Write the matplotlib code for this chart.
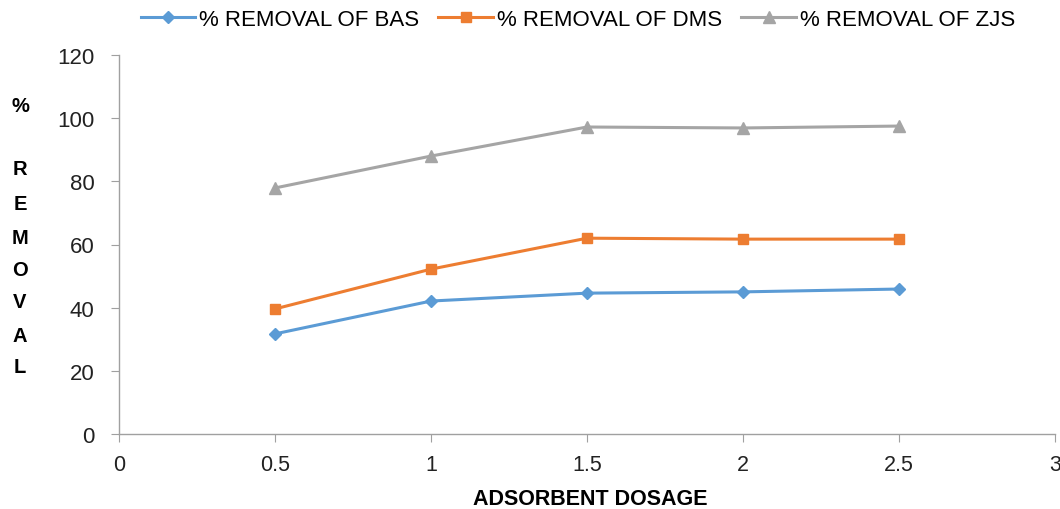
import matplotlib
matplotlib.use("Agg")
import matplotlib.pyplot as plt

# adsorbent dosage vs percentage removal for three adsorbents
dosage = [0.5, 1.0, 1.5, 2.0, 2.5]
removal_bas = [31.7, 42.1, 44.6, 45.0, 45.9]
removal_dms = [39.6, 52.2, 62.0, 61.7, 61.7]
removal_zjs = [77.9, 88.0, 97.2, 96.9, 97.5]

x_ticks = [0, 0.5, 1, 1.5, 2, 2.5, 3]
x_tick_labels = ["0", "0.5", "1", "1.5", "2", "2.5", "3"]
y_ticks = [0, 20, 40, 60, 80, 100, 120]

sans = ["Liberation Sans", "DejaVu Sans"]

fig = plt.figure(figsize=(10.6, 5.1), dpi=100)
ax = fig.add_axes([119 / 1060, 1 - 435 / 510, (1055 - 119) / 1060, (435 - 56) / 510])

ax.plot(dosage, removal_bas, color="#5B9BD5", marker="D", markersize=6, linewidth=2.2,
        label="% REMOVAL OF BAS")
ax.plot(dosage, removal_dms, color="#ED7D31", marker="s", markersize=7, linewidth=2.2,
        label="% REMOVAL OF DMS")
ax.plot(dosage, removal_zjs, color="#A5A5A5", marker="^", markersize=8, linewidth=2.2,
        label="% REMOVAL OF ZJS")

ax.set_xlim(0, 3)
ax.set_ylim(0, 120)
ax.set_xticks(x_ticks)
ax.set_xticklabels(x_tick_labels, fontfamily=sans, fontsize=15.5)
ax.set_yticks(y_ticks)
ax.set_yticklabels([str(v) for v in y_ticks], fontfamily=sans, fontsize=16)

for side in ("top", "right"):
    ax.spines[side].set_visible(False)
for side in ("left", "bottom"):
    ax.spines[side].set_color("#A0A0A0")
    ax.spines[side].set_linewidth(1)
ax.tick_params(axis="both", direction="out", length=5.5, color="#A0A0A0", colors="#222222")
ax.tick_params(axis="x", pad=9)
ax.tick_params(axis="y", pad=12)

ax.set_xlabel("ADSORBENT DOSAGE", fontfamily=sans, fontweight="bold", fontsize=15.5,
              va="center")
ax.xaxis.set_label_coords((590 - 119) / (1055 - 119), (435 - 500) / (435 - 56))

# vertical stacked y-axis title
letters = ["%", "R", "E", "M", "O", "V", "A", "L"]
ys = [106, 170, 205, 238, 270, 302, 336, 368]
for ch, yp in zip(letters, ys):
    fig.text(20 / 1060, 1 - yp / 510, ch, ha="center", va="center",
             fontsize=14.5, fontweight="bold", fontfamily=sans)

fig.legend(loc="center", bbox_to_anchor=(578 / 1060, 1 - 20 / 510), ncol=3, frameon=False,
           prop={"family": sans, "size": 16}, handlelength=2.45, columnspacing=0.85,
           handletextpad=0.2)

fig.savefig("out.png", dpi=100)
